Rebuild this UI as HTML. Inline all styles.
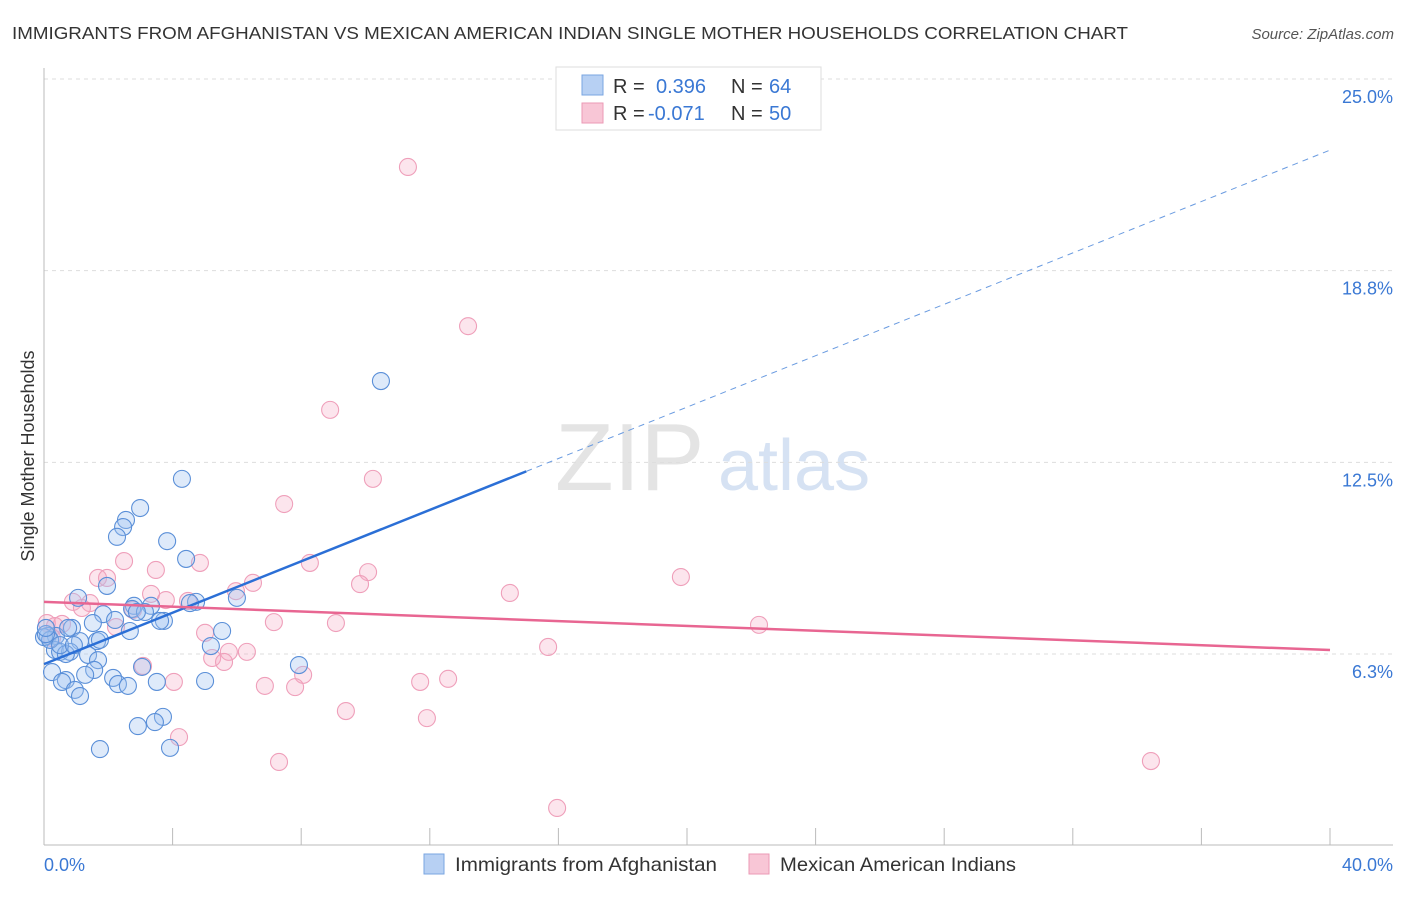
<!DOCTYPE html>
<html><head><meta charset="utf-8"><style>
body{margin:0;background:#fff;font-family:"Liberation Sans",sans-serif;}
svg text{font-family:"Liberation Sans",sans-serif;}
</style></head><body>
<svg id="chart" width="1406" height="892" xmlns="http://www.w3.org/2000/svg">
<text x="12" y="39" font-size="17.5" fill="#333" textLength="1116" lengthAdjust="spacingAndGlyphs">IMMIGRANTS FROM AFGHANISTAN VS MEXICAN AMERICAN INDIAN SINGLE MOTHER HOUSEHOLDS CORRELATION CHART</text>
<text x="1394" y="39" font-size="15" fill="#555" font-style="italic" text-anchor="end">Source: ZipAtlas.com</text>
<g>
<text x="555" y="490" font-size="96" fill="#e4e4e4" font-family="Liberation Serif">ZIP</text>
<text x="718" y="490" font-size="72" fill="#d6e2f3">atlas</text>
</g>
<g id="grid"></g>
<g id="axes"></g>
<text transform="translate(34,456) rotate(-90)" font-size="18" fill="#333" text-anchor="middle">Single Mother Households</text>
<g id="pts"></g>
<g id="lines"></g>
<g>
<rect x="556" y="67" width="265" height="63" fill="#fff" stroke="#ddd"/>
<rect x="582" y="75" width="21" height="20" fill="#b7d0f3" stroke="#7aa6e2"/>
<rect x="582" y="103" width="21" height="20" fill="#f8c6d6" stroke="#eb9ab5"/>
<text x="613" y="93" font-size="20" fill="#333">R = </text><text x="656" y="93" font-size="20" fill="#3a78d4">0.396</text>
<text x="731" y="93" font-size="20" fill="#333">N = </text><text x="769" y="93" font-size="20" fill="#3a78d4">64</text>
<text x="613" y="120" font-size="20" fill="#333">R = </text><text x="648" y="120" font-size="20" fill="#3a78d4">-0.071</text>
<text x="731" y="120" font-size="20" fill="#333">N = </text><text x="769" y="120" font-size="20" fill="#3a78d4">50</text>
</g>
<g>
<rect x="424" y="854" width="20" height="20" fill="#b7d0f3" stroke="#7aa6e2"/>
<text x="455" y="871" font-size="19.5" fill="#333" textLength="262" lengthAdjust="spacingAndGlyphs">Immigrants from Afghanistan</text>
<rect x="749" y="854" width="20" height="20" fill="#f8c6d6" stroke="#eb9ab5"/>
<text x="780" y="871" font-size="19.5" fill="#333" textLength="236" lengthAdjust="spacingAndGlyphs">Mexican American Indians</text>
</g>
</svg>
<script>
const xTicks=[0,40];
const xTickLabels=["0.0%","40.0%"];
const yTicks=[6.25,12.5,18.75,25];
const yTickLabels=["6.3%","12.5%","18.8%","25.0%"];
const blueX=[10.48,4.29,2.99,2.55,2.46,2.27,3.83,4.42,1.96,6.00,1.06,4.73,2.80,3.33,2.74,1.84,2.21,1.52,3.73,3.61,0.87,2.67,5.54,0.12,0.37,1.12,1.65,5.19,0.34,0.50,0.81,0.68,1.37,1.68,7.93,3.05,0.25,1.56,1.28,2.15,0.68,0.56,2.30,3.51,5.01,2.61,0.96,1.12,3.70,3.45,2.92,1.74,3.92,0,0.19,0.06,0.50,1.74,0.93,3.14,2.89,4.54,0.06,0.75];
const blueY=[15.15,11.96,11.01,10.62,10.39,10.07,9.93,9.35,8.47,8.08,8.08,7.95,7.82,7.82,7.72,7.55,7.36,7.26,7.33,7.33,7.10,7.00,7.00,6.84,6.84,6.67,6.67,6.51,6.38,6.32,6.32,6.25,6.22,6.05,5.89,5.83,5.66,5.73,5.57,5.47,5.40,5.34,5.27,5.34,5.37,5.21,5.08,4.88,4.20,4.03,3.90,3.15,3.19,6.80,6.71,6.90,6.54,6.71,6.54,7.62,7.62,7.91,7.10,7.10];
const pinkX=[11.32,13.19,8.90,10.23,7.47,8.27,10.08,2.49,1.68,1.96,3.48,4.85,9.83,6.50,5.97,14.49,19.81,3.33,4.48,3.79,0.90,1.43,1.18,2.77,22.24,7.15,9.08,2.24,5.01,0.09,0.56,0.34,0.25,15.68,5.75,6.31,5.23,5.60,3.08,8.06,6.87,7.81,4.04,11.70,12.57,9.39,11.91,4.20,7.31,34.43,15.96];
const pinkY=[22.13,16.94,14.21,11.96,11.14,9.22,8.92,9.28,8.73,8.73,8.99,9.22,8.53,8.57,8.30,8.24,8.76,8.21,7.98,8.01,7.95,7.91,7.75,7.69,7.20,7.29,7.26,7.13,6.94,7.26,7.23,7.16,6.77,6.48,6.32,6.32,6.12,5.99,5.86,5.57,5.21,5.17,5.34,5.34,5.44,4.39,4.16,3.54,2.73,2.76,1.23];
const blueTrend=[5.92,22.68];
const pinkTrend=[7.95,6.38];
const blueSolidEnd=15.0;

const X0=44,X1=1330,YB=845.7,YPER=30.67;
const sx=v=>X0+(X1-X0)*v/40;
const sy=v=>YB-v*YPER;
const NS="http://www.w3.org/2000/svg";
function mk(tag,attrs,parent){const e=document.createElementNS(NS,tag);for(const k in attrs)e.setAttribute(k,attrs[k]);parent.appendChild(e);return e;}
const grid=document.getElementById('grid'),axes=document.getElementById('axes');
yTicks.forEach((t,i)=>{
  const l=mk('line',{x1:X0,x2:1393,y1:sy(t),y2:sy(t),stroke:'#ddd','stroke-dasharray':'4,4'},grid);
  
  
  const tx=mk('text',{x:1393,y:sy(t)+24,'font-size':18,fill:'#3a78d4','text-anchor':'end'},axes);
  tx.textContent=yTickLabels[i];
  
  
});
mk('line',{x1:X0,x2:X0,y1:68,y2:845,stroke:'#bbb'},axes);
mk('line',{x1:X0,x2:1393,y1:845,y2:845,stroke:'#bbb'},axes);
for(let i=0;i<=10;i++){const x=sx(i*4);mk('line',{x1:x,x2:x,y1:828,y2:845,stroke:'#bbb'},axes);}
xTicks.forEach((t,i)=>{
  const tx=mk('text',{x:sx(t)+(i==0?0:63),y:871,'font-size':18,fill:'#3a78d4','text-anchor':i==0?'start':'end'},axes);
  tx.textContent=xTickLabels[i];
  
  
});
const pts=document.getElementById('pts');
pinkX.forEach((v,i)=>{
  const c=mk('circle',{cx:sx(v),cy:sy(pinkY[i]),r:8.5,fill:'rgba(246,170,196,0.3)',stroke:'#ef9fba','stroke-width':1.1},pts);
  
  
});
blueX.forEach((v,i)=>{
  const c=mk('circle',{cx:sx(v),cy:sy(blueY[i]),r:8.5,fill:'rgba(160,196,240,0.35)',stroke:'#5a8fd8','stroke-width':1.1},pts);
  
  
});
const lines=document.getElementById('lines');
const by=x=>blueTrend[0]+(blueTrend[1]-blueTrend[0])*x/40;
let l1=mk('line',{x1:sx(0),y1:sy(by(0)),x2:sx(blueSolidEnd),y2:sy(by(blueSolidEnd)),stroke:'#2b6fd6','stroke-width':2.5},lines);


let l2=mk('line',{x1:sx(blueSolidEnd),y1:sy(by(blueSolidEnd)),x2:sx(40),y2:sy(by(40)),stroke:'#6a9be0','stroke-width':1,'stroke-dasharray':'6,5'},lines);


let l3=mk('line',{x1:sx(0),y1:sy(pinkTrend[0]),x2:sx(40),y2:sy(pinkTrend[1]),stroke:'#e86692','stroke-width':2.5},lines);


</script>
</body></html>
